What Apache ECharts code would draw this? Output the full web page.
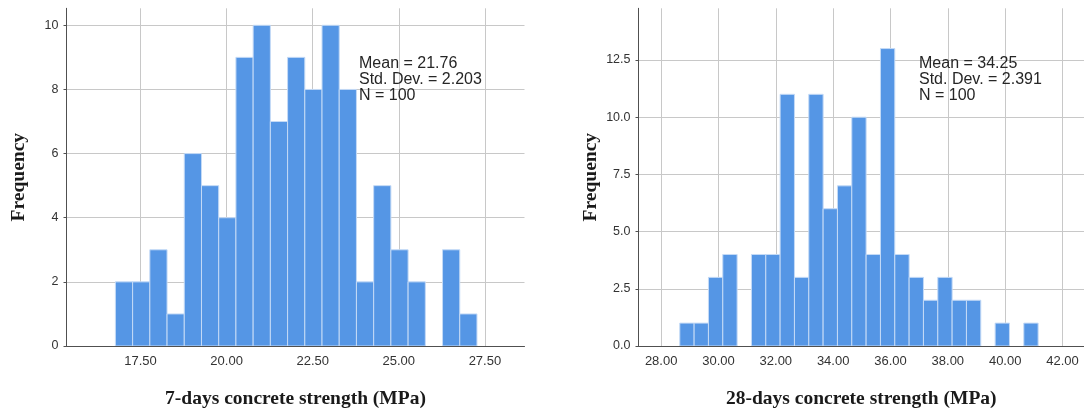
<!DOCTYPE html>
<html>
<head>
<meta charset="utf-8">
<script src="https://cdn.jsdelivr.net/npm/echarts@6/dist/echarts.min.js"></script>
<style>
  html, body { margin: 0; padding: 0; background: #ffffff; }
  #chart { width: 1084px; height: 414px; }
</style>
</head>
<body>
<div id="chart"></div>
<script>
// ---------- data ----------
const binWidth = 0.5;

const days7BinStart = [16.77, 17.27, 17.77, 18.27, 18.77, 19.27, 19.77, 20.27, 20.77, 21.27, 21.77,
                       22.27, 22.77, 23.27, 23.77, 24.27, 24.77, 25.27, 25.77, 26.27, 26.77];
const days7Counts   = [2, 2, 3, 1, 6, 5, 4, 9, 10, 7, 9, 8, 10, 8, 2, 5, 3, 2, 0, 3, 1];

const days28BinStart = [28.65, 29.15, 29.65, 30.15, 30.65, 31.15, 31.65, 32.15, 32.65, 33.15, 33.65,
                        34.15, 34.65, 35.15, 35.65, 36.15, 36.65, 37.15, 37.65, 38.15, 38.65, 39.15,
                        39.65, 40.15, 40.65];
const days28Counts   = [1, 1, 3, 4, 0, 4, 4, 11, 3, 11, 6, 7, 10, 4, 13, 4, 3, 2, 3, 2, 2, 0, 1, 0, 1];

const xTicks7  = [17.5, 20, 22.5, 25, 27.5];
const yTicks7  = [0, 2, 4, 6, 8, 10];
const xTicks28 = [28, 30, 32, 34, 36, 38, 40, 42];
const yTicks28 = [0, 2.5, 5, 7.5, 10, 12.5];

const stats7  = ['Mean = 21.76', 'Std. Dev. = 2.203', 'N = 100'];
const stats28 = ['Mean = 34.25', 'Std. Dev. = 2.391', 'N = 100'];

const xTitle7  = '7-days concrete strength (MPa)';
const xTitle28 = '28-days concrete strength (MPa)';
const yTitle   = 'Frequency';

// ---------- styling ----------
const BAR = '#5596e5';
const BAR_EDGE = '#c4daf6';
const GRID = '#c8c8c8';
const AXIS = '#505050';
const LABEL = '#333333';
const SANS = 'Liberation Sans, Arial, sans-serif';
const SERIF = 'Liberation Serif, Times New Roman, serif';

function toData(starts, counts) {
  return starts.map((s, i) => [s, s + binWidth, counts[i]]);
}

function renderItem(params, api) {
  const y = api.value(2);
  if (!y) return null;
  const p0 = api.coord([api.value(0), y]);
  const p1 = api.coord([api.value(1), 0]);
  return {
    type: 'rect',
    shape: { x: p0[0], y: p0[1], width: p1[0] - p0[0], height: p1[1] - p0[1] },
    style: { fill: BAR, stroke: BAR_EDGE, lineWidth: 1 }
  };
}

function xAxisCfg(gridIndex, min, max, ticks, title) {
  return {
    type: 'value', gridIndex, min, max,
    name: title, nameLocation: 'middle', nameGap: 43,
    nameTextStyle: { fontFamily: SERIF, fontWeight: 'bold', fontSize: 19.5, color: '#1a1a1a' },
    axisLine: { show: true, onZero: false, lineStyle: { color: AXIS, width: 1 } },
    axisTick: { show: false, customValues: ticks },
    axisLabel: { customValues: ticks, margin: 9, fontFamily: SANS, fontSize: 13, color: LABEL,
                 formatter: v => v.toFixed(2) },
    splitLine: { show: true, customValues: ticks, lineStyle: { color: GRID, width: 1 } }
  };
}

function yAxisCfg(gridIndex, max, ticks, digits) {
  return {
    type: 'value', gridIndex, min: 0, max,
    name: yTitle, nameLocation: 'middle', nameGap: 38, nameRotate: 90,
    nameTextStyle: { fontFamily: SERIF, fontWeight: 'bold', fontSize: 19.5, color: '#1a1a1a' },
    axisLine: { show: true, lineStyle: { color: AXIS, width: 1 } },
    axisTick: { show: true, length: 3, customValues: ticks, lineStyle: { color: AXIS } },
    axisLabel: { customValues: ticks, margin: 8, fontFamily: SANS, fontSize: 12.5, color: LABEL,
                 formatter: v => v.toFixed(digits) },
    splitLine: { show: true, customValues: ticks, lineStyle: { color: GRID, width: 1 } }
  };
}

function statsText(left, lines) {
  return {
    type: 'text', left, top: 56, z: 10,
    style: { text: lines.join('\n'), fontFamily: SANS, fontSize: 16, lineHeight: 16, fill: '#262626' }
  };
}

const chart = echarts.init(document.getElementById('chart'), null, { renderer: 'canvas' });
chart.setOption({
  animation: false,
  backgroundColor: '#ffffff',
  grid: [
    { left: 66.5, top: 8.3, width: 458, height: 339.4 },
    { left: 638.5, top: 8.3, width: 445.5, height: 339.4 }
  ],
  xAxis: [
    xAxisCfg(0, 15.35, 28.65, xTicks7, xTitle7),
    xAxisCfg(1, 27.21, 42.75, xTicks28, xTitle28)
  ],
  yAxis: [
    yAxisCfg(0, 10.53, yTicks7, 0),
    yAxisCfg(1, 14.76, yTicks28, 1)
  ],
  series: [
    { type: 'custom', xAxisIndex: 0, yAxisIndex: 0, renderItem, data: toData(days7BinStart, days7Counts),
      encode: { x: [0, 1], y: 2 }, clip: true, z: 5 },
    { type: 'custom', xAxisIndex: 1, yAxisIndex: 1, renderItem, data: toData(days28BinStart, days28Counts),
      encode: { x: [0, 1], y: 2 }, clip: true, z: 5 }
  ],
  graphic: [
    statsText(359, stats7),
    statsText(919, stats28)
  ]
});
</script>
</body>
</html>
